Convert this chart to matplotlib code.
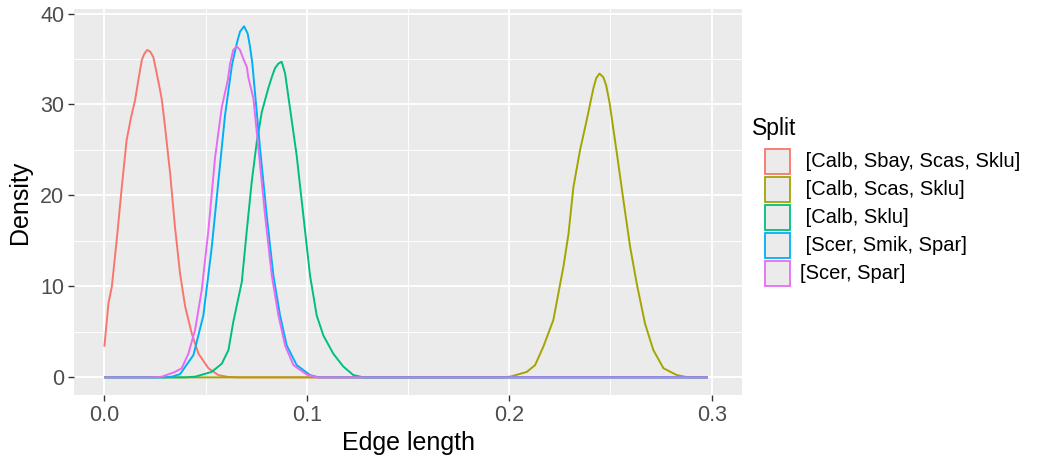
import matplotlib
matplotlib.use("Agg")
import matplotlib.pyplot as plt
from matplotlib.patches import Rectangle

plt.rcParams['font.family'] = ['Liberation Sans', 'DejaVu Sans']

series_names = [" [Calb, Sbay, Scas, Sklu]", " [Calb, Scas, Sklu]", " [Calb, Sklu]",
                " [Scer, Smik, Spar]", "[Scer, Spar]"]
colors = ["#F8766D", "#A3A500", "#00BF7D", "#00B0F6", "#E76BF3"]

red_x = [0.0, 0.002, 0.0037, 0.0061, 0.0086, 0.011, 0.0132, 0.0152, 0.0168, 0.0185, 0.0198,
         0.0212, 0.0227, 0.0242, 0.0259, 0.0275, 0.0284, 0.030, 0.0325, 0.0349, 0.0374,
         0.0399, 0.0432, 0.0465, 0.0514, 0.0563, 0.061, 0.066, 0.298]
red_y = [3.36, 8.1, 10.0, 15.1, 20.9, 26.1, 28.6, 30.5, 32.7, 34.9, 35.6,
         36.0, 35.8, 35.2, 33.4, 31.6, 30.5, 27.5, 22.4, 16.5, 11.4,
         7.8, 4.8, 2.6, 1.0, 0.25, 0.05, 0.0, 0.0]

olive_x = [0.0, 0.195, 0.2004, 0.2087, 0.2128, 0.2169, 0.2218, 0.2268, 0.2293, 0.2317, 0.235,
           0.2383, 0.2416, 0.243, 0.2446, 0.2465, 0.2479, 0.2495, 0.2532, 0.2564, 0.2597,
           0.263, 0.2671, 0.2712, 0.2762, 0.2828, 0.288, 0.298]
olive_y = [0.0, 0.0, 0.07, 0.6, 1.35, 3.4, 6.3, 12.2, 15.8, 20.9, 25.0,
           28.3, 31.8, 32.9, 33.4, 33.0, 32.1, 30.3, 24.6, 19.5, 14.4,
           10.3, 5.9, 3.0, 1.0, 0.25, 0.02, 0.0]

green_x = [0.0, 0.040, 0.0448, 0.053, 0.058, 0.0613, 0.0637, 0.0679, 0.0703, 0.0728, 0.0753,
           0.0778, 0.081, 0.0827, 0.0843, 0.086, 0.0876, 0.0893, 0.0917, 0.095, 0.0983,
           0.1016, 0.1049, 0.1082, 0.1131, 0.118, 0.123, 0.128, 0.298]
green_y = [0.0, 0.0, 0.07, 0.6, 1.5, 3.0, 6.1, 10.5, 16.0, 21.5, 25.9,
           29.2, 31.8, 33.0, 34.0, 34.5, 34.7, 33.4, 29.6, 24.4, 17.8,
           11.2, 6.8, 4.6, 2.6, 1.2, 0.25, 0.0, 0.0]

blue_x = [0.0, 0.030, 0.0333, 0.0374, 0.044, 0.0489, 0.053, 0.0563, 0.0596, 0.063, 0.0654,
          0.067, 0.069, 0.0708, 0.072, 0.0731, 0.0769, 0.0802, 0.0835, 0.0868, 0.0901,
          0.095, 0.1016, 0.106, 0.298]
blue_y = [0.0, 0.0, 0.07, 0.35, 2.45, 6.8, 14.2, 21.5, 28.8, 34.3, 36.7,
          38.0, 38.6, 37.8, 36.3, 34.5, 25.2, 17.8, 11.2, 6.8, 3.5,
          1.35, 0.25, 0.0, 0.0]

pink_x = [0.0, 0.024, 0.0284, 0.0349, 0.0382, 0.0415, 0.0448, 0.0481, 0.0514, 0.0547, 0.058,
          0.061, 0.0621, 0.0637, 0.0654, 0.067, 0.0687, 0.0704, 0.0711, 0.0736, 0.0761,
          0.0794, 0.0827, 0.086, 0.0893, 0.0934, 0.100, 0.105, 0.298]
pink_y = [0.0, 0.0, 0.07, 0.6, 1.0, 2.6, 5.2, 9.6, 16.2, 24.2, 29.7,
          32.7, 34.5, 36.0, 36.4, 36.0, 35.0, 34.1, 33.0, 30.7, 25.2,
          17.8, 11.2, 6.8, 3.5, 1.35, 0.3, 0.0, 0.0]

xs = [red_x, olive_x, green_x, blue_x, pink_x]
ys = [red_y, olive_y, green_y, blue_y, pink_y]

x_ticks = [0.0, 0.1, 0.2, 0.3]
x_tick_labels = ["0.0", "0.1", "0.2", "0.3"]
y_ticks = [0, 10, 20, 30, 40]

W, H = 1046, 465
fig = plt.figure(figsize=(W / 100, H / 100), dpi=100)
ax = fig.add_axes([74 / W, 1 - 395 / H, (742 - 74) / W, (395 - 9) / H])
ax.set_facecolor("#EBEBEB")
for s in ax.spines.values():
    s.set_visible(False)

ax.set_xlim(-0.015, 0.315)
ax.set_ylim(-1.94, 40.5)
ax.set_xticks(x_ticks)
ax.set_xticklabels(x_tick_labels)
ax.set_yticks(y_ticks)
ax.set_xticks([0.05, 0.15, 0.25], minor=True)
ax.set_yticks([5, 15, 25, 35], minor=True)
ax.grid(which="major", color="white", linewidth=1.3)
ax.grid(which="minor", color="white", linewidth=0.65)
ax.set_axisbelow(True)
ax.tick_params(which="major", length=4, width=1.0, color="#333333",
               labelsize=15.5, labelcolor="#4D4D4D", pad=3)
ax.tick_params(which="minor", length=0)

for x, y, c in zip(xs, ys, colors):
    ax.plot(x, y, color=c, linewidth=1.4, solid_joinstyle="round", solid_capstyle="butt")

ax.set_xlabel("Edge length", fontsize=18, labelpad=4)
ax.set_ylabel("Density", fontsize=18, labelpad=6)

# legend
fig.text(752 / W, 1 - 128 / H, "Split", fontsize=16.5, va="center", ha="left")
key_w, key_h = 25, 25
for i, (name, c) in enumerate(zip(series_names, colors)):
    top = 149 + i * 28
    fig.add_artist(Rectangle((765 / W, 1 - (top + key_h) / H), key_w / W, key_h / H,
                             transform=fig.transFigure, facecolor="#EBEBEB",
                             edgecolor=c, linewidth=1.3))
    fig.text(800 / W, 1 - (top + key_h / 2) / H, name, fontsize=14.5, va="center", ha="left")

fig.savefig("out.png", dpi=100)
